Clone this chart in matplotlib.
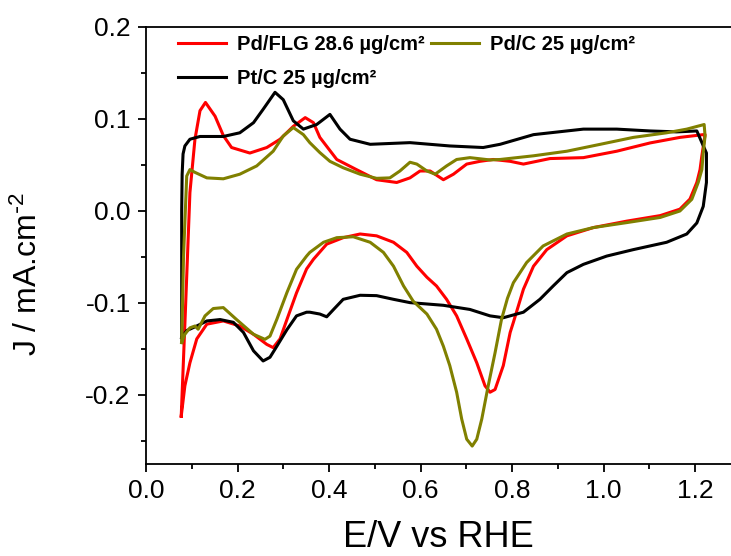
import matplotlib
matplotlib.use('Agg')
import matplotlib.pyplot as plt
from matplotlib.ticker import MultipleLocator

plt.rcParams['font.family'] = ['Liberation Sans', 'DejaVu Sans']
plt.rcParams['mathtext.default'] = 'regular'
plt.rcParams['axes.unicode_minus'] = False

# Pd/FLG 28.6 ug/cm2 (red) - anodic then cathodic sweep
pdflg_E = [0.077, 0.086, 0.096, 0.107, 0.118, 0.130, 0.151, 0.169, 0.187, 0.227, 0.264, 0.293,
           0.322, 0.348, 0.366, 0.380, 0.417, 0.460, 0.504, 0.548, 0.577, 0.599, 0.621, 0.650,
           0.672, 0.701, 0.730, 0.759, 0.796, 0.825, 0.883, 0.956, 1.029, 1.102, 1.167, 1.218,
           1.222, 1.215, 1.211, 1.204, 1.189, 1.167, 1.124, 1.051, 0.978, 0.920, 0.876, 0.847,
           0.825, 0.803, 0.796, 0.781, 0.763, 0.752, 0.741, 0.723, 0.701, 0.679, 0.657, 0.635,
           0.614, 0.592, 0.570, 0.541, 0.504, 0.468, 0.431, 0.395, 0.366, 0.351, 0.329, 0.308,
           0.293, 0.278, 0.264, 0.235, 0.205, 0.169, 0.133, 0.111, 0.096, 0.085, 0.077]
pdflg_J = [-0.223, -0.110, 0.020, 0.078, 0.109, 0.118, 0.103, 0.082, 0.069, 0.063, 0.069, 0.078,
           0.092, 0.1015, 0.096, 0.080, 0.056, 0.045, 0.034, 0.031, 0.036, 0.0435, 0.0435, 0.034,
           0.040, 0.051, 0.054, 0.056, 0.054, 0.051, 0.057, 0.058, 0.065, 0.074, 0.080, 0.083,
           0.083, 0.060, 0.045, 0.031, 0.013, 0.002, -0.005, -0.011, -0.018, -0.027, -0.042, -0.060,
           -0.085, -0.121, -0.132, -0.168, -0.194, -0.197, -0.190, -0.165, -0.139, -0.114, -0.096, -0.0815,
           -0.072, -0.060, -0.045, -0.034, -0.027, -0.025, -0.029, -0.036, -0.0525, -0.063, -0.089, -0.118,
           -0.139, -0.1485, -0.145, -0.134, -0.125, -0.1195, -0.123, -0.139, -0.165, -0.190, -0.223]

# Pt/C 25 ug/cm2 (black)
ptc_E = [0.078, 0.078, 0.079, 0.081, 0.085, 0.096, 0.118, 0.169, 0.205, 0.235, 0.256, 0.282,
         0.300, 0.322, 0.344, 0.373, 0.402, 0.424, 0.446, 0.490, 0.577, 0.664, 0.737, 0.774,
         0.847, 0.956, 1.029, 1.102, 1.160, 1.204, 1.225, 1.225, 1.218, 1.204, 1.182, 1.138,
         1.065, 1.007, 0.956, 0.920, 0.890, 0.861, 0.825, 0.781, 0.752, 0.708, 0.650, 0.577,
         0.541, 0.504, 0.468, 0.431, 0.410, 0.395, 0.380, 0.358, 0.351, 0.329, 0.308, 0.286,
         0.271, 0.256, 0.235, 0.213, 0.191, 0.162, 0.133, 0.111, 0.089, 0.078]
ptc_J = [-0.138, 0.000, 0.040, 0.062, 0.0707, 0.078, 0.081, 0.081, 0.085, 0.096, 0.1105, 0.129,
         0.121, 0.098, 0.089, 0.094, 0.105, 0.089, 0.078, 0.0725, 0.0743, 0.0707, 0.069, 0.0725,
         0.083, 0.089, 0.089, 0.087, 0.086, 0.087, 0.063, 0.031, 0.005, -0.013, -0.025, -0.034,
         -0.042, -0.049, -0.058, -0.067, -0.0815, -0.096, -0.110, -0.116, -0.114, -0.107, -0.1025, -0.0996,
         -0.096, -0.092, -0.0916, -0.096, -0.107, -0.115, -0.112, -0.110, -0.110, -0.114, -0.129, -0.147,
         -0.159, -0.163, -0.152, -0.132, -0.121, -0.118, -0.1195, -0.125, -0.130, -0.138]

# Pd/C 25 ug/cm2 (olive)
pdc_E = [0.078, 0.082, 0.089, 0.096, 0.107, 0.133, 0.169, 0.205, 0.242, 0.278, 0.300, 0.322,
         0.344, 0.358, 0.380, 0.402, 0.431, 0.468, 0.504, 0.533, 0.555, 0.577, 0.592, 0.614,
         0.632, 0.657, 0.679, 0.708, 0.752, 0.774, 0.847, 0.920, 0.993, 1.065, 1.138, 1.182,
         1.220, 1.222, 1.218, 1.215, 1.207, 1.193, 1.167, 1.124, 1.051, 0.978, 0.920, 0.868,
         0.832, 0.803, 0.790, 0.777, 0.763, 0.748, 0.734, 0.723, 0.713, 0.701, 0.690, 0.679,
         0.664, 0.650, 0.635, 0.614, 0.584, 0.563, 0.541, 0.519, 0.490, 0.453, 0.417, 0.388,
         0.358, 0.351, 0.329, 0.308, 0.286, 0.271, 0.260, 0.235, 0.198, 0.169, 0.147, 0.129,
         0.114, 0.107, 0.096, 0.085, 0.078]
pdc_J = [-0.143, -0.050, 0.038, 0.045, 0.042, 0.036, 0.035, 0.040, 0.049, 0.065, 0.0815, 0.0907,
         0.083, 0.0743, 0.0635, 0.054, 0.047, 0.040, 0.0355, 0.036, 0.0435, 0.053, 0.051, 0.0435,
         0.040, 0.049, 0.056, 0.058, 0.0555, 0.056, 0.060, 0.065, 0.0725, 0.080, 0.085, 0.089,
         0.094, 0.0815, 0.0635, 0.045, 0.031, 0.0127, 0.000, -0.007, -0.0126, -0.018, -0.025, -0.038,
         -0.056, -0.078, -0.095, -0.118, -0.154, -0.190, -0.226, -0.248, -0.2555, -0.248, -0.226, -0.197,
         -0.168, -0.147, -0.1285, -0.112, -0.098, -0.0815, -0.060, -0.045, -0.034, -0.028, -0.029, -0.034,
         -0.045, -0.049, -0.0634, -0.0887, -0.1177, -0.136, -0.1395, -0.134, -0.118, -0.105, -0.106, -0.114,
         -0.1285, -0.125, -0.127, -0.134, -0.143]

labels = ['Pd/FLG 28.6 \u00b5g/cm\u00b2', 'Pt/C 25 \u00b5g/cm\u00b2', 'Pd/C 25 \u00b5g/cm\u00b2']
colors = ['#ff0000', '#000000', '#808000']

fig = plt.figure(figsize=(7.31, 5.56), dpi=100)
ax = fig.add_axes([146/731, 92/556, 594.75/731, 437/556])

ax.plot(pdflg_E, pdflg_J, color=colors[0], lw=2.2, label=labels[0])
ax.plot(ptc_E, ptc_J, color=colors[1], lw=2.2, label=labels[1])
ax.plot(pdc_E, pdc_J, color=colors[2], lw=2.2, label=labels[2])

ax.set_xlim(0.0, 1.3)
ax.set_ylim(-0.275, 0.2)
ax.xaxis.set_minor_locator(MultipleLocator(0.1))
ax.yaxis.set_minor_locator(MultipleLocator(0.05))
ax.set_xticks([0.0, 0.2, 0.4, 0.6, 0.8, 1.0, 1.2])
ax.set_xticklabels(['0.0', '0.2', '0.4', '0.6', '0.8', '1.0', '1.2'])
ax.set_yticks([-0.2, -0.1, 0.0, 0.1, 0.2])
ax.set_yticklabels(['-0.2', '-0.1', '0.0', '0.1', '0.2'])
ax.tick_params(which='major', direction='out', length=6, width=1.3, labelsize=19, pad=5)
ax.tick_params(which='minor', direction='out', length=3.5, width=1.3)
ax.tick_params(top=False, right=False, which='both')
for s in ax.spines.values():
    s.set_linewidth(1.3)

ax.set_xlabel('E/V vs RHE', fontsize=26)
ax.xaxis.set_label_coords(0.491, -0.128)
ax.xaxis.label.set_va('top')
ax.set_ylabel('J / mA.cm$^{\\text{-}2}$', fontsize=23)
ax.yaxis.set_label_coords(-0.171, 0.435)

ax.legend(loc='upper left', bbox_to_anchor=(0.04, 1.0), ncol=2, frameon=False,
          prop={'weight': 'bold', 'size': 14.5}, handlelength=2.4, handletextpad=0.55,
          columnspacing=0.3, labelspacing=0.75, borderaxespad=0)

fig.savefig('out.png', dpi=100)
